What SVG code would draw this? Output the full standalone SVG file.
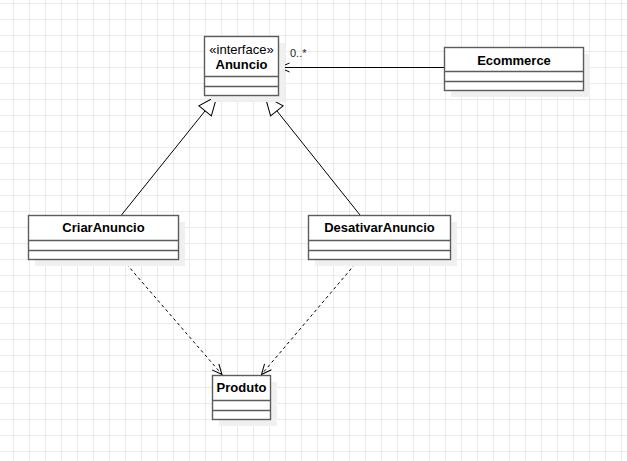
<svg xmlns="http://www.w3.org/2000/svg" width="627" height="461" viewBox="0 0 627 461">
<defs>
<pattern id="grid" x="13" y="3" width="16" height="16" patternUnits="userSpaceOnUse">
<path d="M0.5 0V16M0 0.5H16" stroke="#ebebeb" stroke-width="1" fill="none"/>
</pattern>
<marker id="tri" markerUnits="userSpaceOnUse" markerWidth="24" markerHeight="20" refX="20" refY="9" orient="auto" viewBox="0 0 24 20">
<path d="M20 9L1 1L1 17Z" fill="#fff" stroke="#000" stroke-width="1"/>
</marker>
<marker id="open" markerUnits="userSpaceOnUse" markerWidth="14" markerHeight="12" refX="11" refY="6" orient="auto" viewBox="0 0 14 12">
<path d="M1 1.5L11 6L1 10.5" fill="none" stroke="#000" stroke-width="1"/>
</marker>
</defs>
<style>
.box{fill:#fff;stroke:#5c5c5c;stroke-width:1.4}
.div{stroke:#5c5c5c;stroke-width:1.4;fill:none}
.sh{fill:#f0f0f0}
.t{font-family:"Liberation Sans",Arial,sans-serif;font-size:13px;fill:#000;text-anchor:middle}
.b{font-weight:bold}
.lbl{font-family:"Liberation Sans",Arial,sans-serif;font-size:11px;fill:#222}
.c{stroke:#000;stroke-width:1;fill:none}
.d{stroke:#000;stroke-width:1;fill:none;stroke-dasharray:3 3}
</style>
<rect width="627" height="461" fill="#fff"/>
<rect width="627" height="461" fill="url(#grid)"/>

<g id="connectors">
<path class="c" d="M121.5 215L217 96" marker-end="url(#tri)"/>
<path class="c" d="M360 215L265 96" marker-end="url(#tri)"/>
<path class="c" d="M444.5 67.5H279.5" marker-end="url(#open)"/>
<text class="lbl" x="290" y="57">0..*</text>
<path class="d" d="M122.5 259.5L222 374.5" marker-end="url(#open)"/>
<path class="d" d="M359 259.5L261.5 374.5" marker-end="url(#open)"/>
</g>

<g id="Anuncio">
<rect class="sh" x="211" y="43" width="74" height="59"/>
<rect class="box" x="204.5" y="36.5" width="74" height="59"/>
<path class="div" d="M204.5 76.5H278.5M204.5 86.5H278.5"/>
<text class="t" x="241.5" y="53.5">«interface»</text>
<text class="t b" x="241.5" y="68.5">Anuncio</text>
</g>

<g id="Ecommerce">
<rect class="sh" x="451" y="54" width="139" height="43"/>
<rect class="box" x="444.5" y="47.5" width="139" height="43"/>
<path class="div" d="M444.5 71.5H583.5M444.5 81.5H583.5"/>
<text class="t b" x="514" y="64.5">Ecommerce</text>
</g>

<g id="CriarAnuncio">
<rect class="sh" x="35" y="222" width="150" height="44"/>
<rect class="box" x="28.5" y="215.5" width="150" height="44"/>
<path class="div" d="M28.5 240.5H178.5M28.5 250.5H178.5"/>
<text class="t b" x="103.5" y="232">CriarAnuncio</text>
</g>

<g id="DesativarAnuncio">
<rect class="sh" x="315" y="222" width="142" height="44"/>
<rect class="box" x="308.5" y="215.5" width="142" height="44"/>
<path class="div" d="M308.5 240.5H450.5M308.5 250.5H450.5"/>
<text class="t b" x="379.5" y="232">DesativarAnuncio</text>
</g>

<g id="Produto">
<rect class="sh" x="219" y="382" width="58" height="44"/>
<rect class="box" x="212.5" y="375.5" width="58" height="44"/>
<path class="div" d="M212.5 400.5H270.5M212.5 410.5H270.5"/>
<text class="t b" x="241.5" y="392">Produto</text>
</g>
</svg>
